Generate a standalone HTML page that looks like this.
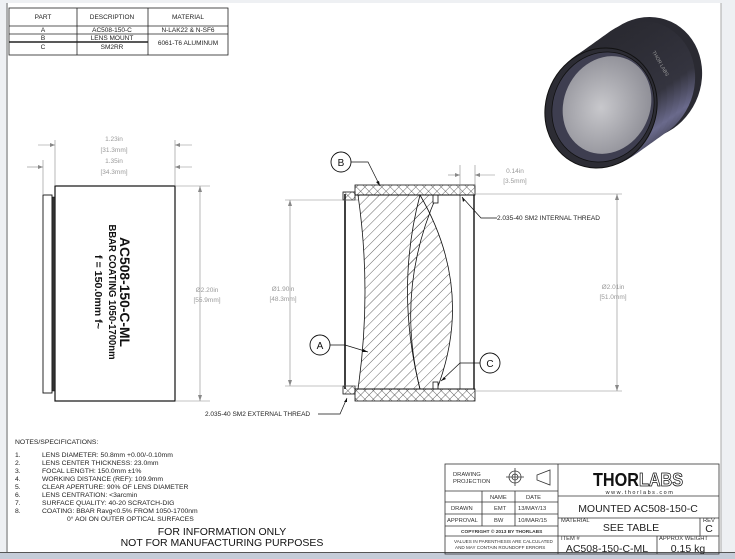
<!DOCTYPE html>
<html><head><meta charset="utf-8"><style>
html,body{margin:0;padding:0;background:#f0f0f0;}
svg{display:block;font-family:"Liberation Sans",sans-serif;}
</style></head><body>
<svg width="735" height="559" viewBox="0 0 735 559" xmlns="http://www.w3.org/2000/svg">
<defs>
<pattern id="h1" width="7" height="7" patternUnits="userSpaceOnUse" patternTransform="rotate(45)">
<line x1="0" y1="0" x2="0" y2="7" stroke="#222" stroke-width="0.7"/></pattern>
<pattern id="hx" width="6" height="6" patternUnits="userSpaceOnUse" patternTransform="rotate(45)">
<line x1="0" y1="0" x2="0" y2="6" stroke="#222" stroke-width="0.7"/><line x1="0" y1="0" x2="6" y2="0" stroke="#222" stroke-width="0.7"/></pattern>
<radialGradient id="glass" cx="45%" cy="55%" r="60%"><stop offset="0" stop-color="#c8c8cc"/><stop offset="1" stop-color="#8d8d95"/></radialGradient>
<linearGradient id="body" x1="0" y1="0" x2="1" y2="1"><stop offset="0" stop-color="#26262c"/><stop offset="0.55" stop-color="#34343f"/><stop offset="0.75" stop-color="#6a6a8c"/><stop offset="1" stop-color="#2a2a32"/></linearGradient>
</defs>
<rect x="0" y="0" width="735" height="559" fill="#eef0f3"/>
<rect x="8" y="3" width="713" height="549" fill="#fff"/>
<line x1="7" y1="3" x2="7" y2="552" stroke="#999" stroke-width="1.5"/>
<line x1="721" y1="3" x2="721" y2="552" stroke="#aaa" stroke-width="1"/>
<rect x="0" y="552" width="735" height="7" fill="#c5ccd8"/>
<line x1="0" y1="552.5" x2="735" y2="552.5" stroke="#555" stroke-width="1"/>

<!-- parts table -->
<g stroke="#222" stroke-width="0.8" fill="none">
<rect x="9" y="8" width="219" height="47"/>
<line x1="9" y1="26" x2="228" y2="26"/>
<line x1="9" y1="34" x2="228" y2="34"/>
<line x1="9" y1="42" x2="148" y2="42" stroke-width="1.4"/>
<line x1="77" y1="8" x2="77" y2="55"/>
<line x1="148" y1="8" x2="148" y2="55"/>
</g>
<g font-size="6.5" fill="#222" text-anchor="middle">
<text x="43" y="19">PART</text><text x="112" y="19">DESCRIPTION</text><text x="188" y="19">MATERIAL</text>
<text x="43" y="32">A</text><text x="112" y="32">AC508-150-C</text><text x="188" y="32">N-LAK22 &amp; N-SF6</text>
<text x="43" y="40">B</text><text x="112" y="40">LENS MOUNT</text><text x="188" y="45">6061-T6 ALUMINUM</text>
<text x="43" y="49">C</text><text x="112" y="49">SM2RR</text>
</g>

<!-- 3D render -->
<g fill="url(#body)">
<ellipse cx="645" cy="78" rx="56" ry="62" transform="rotate(25 645 78)" fill="#2a2a32"/>
<ellipse cx="638" cy="82" rx="56" ry="62" transform="rotate(25 638 82)"/>
<ellipse cx="631" cy="87" rx="56" ry="62" transform="rotate(25 631 87)"/>
<ellipse cx="624" cy="92" rx="56" ry="62" transform="rotate(25 624 92)"/>
<ellipse cx="617" cy="97" rx="56" ry="62" transform="rotate(25 617 97)"/>
<ellipse cx="610" cy="102" rx="56" ry="62" transform="rotate(25 610 102)"/>
<ellipse cx="604" cy="106" rx="56" ry="62" transform="rotate(25 604 106)"/>
</g>
<ellipse cx="601" cy="108" rx="55" ry="61" transform="rotate(25 601 108)" fill="#2c2c34" stroke="#111" stroke-width="1"/>
<ellipse cx="603" cy="107" rx="50" ry="56" transform="rotate(25 603 107)" fill="#3e3e50" stroke="#111" stroke-width="0.8"/>
<ellipse cx="607" cy="105" rx="43" ry="50" transform="rotate(25 607 105)" fill="url(#glass)"/>
<text x="652" y="52" font-size="5" fill="#999" transform="rotate(60 652 52)">THOR LABS</text>

<!-- left view -->
<g stroke="#111" fill="none">
<rect x="55" y="186" width="120" height="215" stroke-width="1.2"/>
<rect x="43" y="195" width="9" height="198" stroke-width="0.9"/>
<rect x="52" y="197" width="3" height="194" fill="#333" stroke-width="0.5"/>
</g>
<g stroke="#888" stroke-width="0.6" fill="none">
<line x1="55" y1="140" x2="55" y2="186"/><line x1="175" y1="140" x2="175" y2="186"/>
<line x1="43" y1="160" x2="43" y2="195"/>
<line x1="38" y1="145" x2="55" y2="145"/><line x1="175" y1="145" x2="192" y2="145"/>
<line x1="27" y1="167" x2="43" y2="167"/><line x1="175" y1="167" x2="192" y2="167"/>
<line x1="175" y1="186" x2="210" y2="186"/><line x1="175" y1="401" x2="210" y2="401"/>
<line x1="200" y1="186" x2="200" y2="401"/>
</g>
<g fill="#888"><path d="M55 145 l-5 -2 v4z"/><path d="M175 145 l5 -2 v4z"/><path d="M43 167 l-5 -2 v4z"/><path d="M175 167 l5 -2 v4z"/>
<path d="M200 186 l-2 6 h4z"/><path d="M200 401 l-2 -6 h4z"/></g>
<g font-size="6.5" fill="#999" text-anchor="middle">
<text x="114" y="141">1.23in</text><text x="114" y="152">[31.3mm]</text>
<text x="114" y="163">1.35in</text><text x="114" y="174">[34.3mm]</text>
<text x="207" y="292">Ø2.20in</text><text x="207" y="302">[55.9mm]</text>
</g>
<g transform="translate(113 292) rotate(90)" text-anchor="middle" font-weight="bold" fill="#111">
<text x="0" y="-7" font-size="13.5" textLength="110" lengthAdjust="spacingAndGlyphs">AC508-150-C-ML</text>
<text x="0" y="4" font-size="10" textLength="135" lengthAdjust="spacingAndGlyphs">BBAR COATING 1050-1700nm</text>
<text x="0" y="18" font-size="10" textLength="74" lengthAdjust="spacingAndGlyphs">f = 150.0mm f~</text>
</g>

<!-- section view -->
<g stroke="#111" stroke-width="0.8">
<rect x="355" y="185" width="120" height="10" fill="url(#hx)"/>
<rect x="355" y="389" width="120" height="12" fill="url(#hx)"/>
<rect x="343" y="192" width="12" height="8" fill="url(#hx)"/>
<rect x="343" y="386" width="12" height="8" fill="url(#hx)"/>
<path d="M358 195 L437 195 Q395 290 420 389 L358 389 Q372 292 358 195 Z" fill="url(#h1)"/>
<path d="M420 195 Q475 290 437 389 L420 389 Q395 290 420 195 Z" fill="url(#h1)"/>
<rect x="433" y="195" width="5" height="8" fill="#fff"/>
<rect x="433" y="382" width="5" height="7" fill="#fff"/>
</g>
<g stroke="#111" fill="none">
<line x1="345" y1="194" x2="345" y2="389" stroke-width="1.6"/>
<line x1="474" y1="195" x2="474" y2="389" stroke-width="1.4"/>
<line x1="355" y1="195" x2="474" y2="195" stroke-width="1"/>
<line x1="355" y1="389" x2="474" y2="389" stroke-width="1"/>
<line x1="460" y1="195" x2="460" y2="389" stroke-width="0.6"/>
</g>
<g stroke="#888" stroke-width="0.6" fill="none">
<line x1="285" y1="200" x2="358" y2="200"/><line x1="285" y1="386" x2="358" y2="386"/>
<line x1="290" y1="200" x2="290" y2="386"/>
<line x1="475" y1="194" x2="622" y2="194"/><line x1="475" y1="391" x2="622" y2="391"/>
<line x1="617" y1="194" x2="617" y2="391"/>
<line x1="460" y1="165" x2="460" y2="195"/><line x1="475" y1="165" x2="475" y2="186"/>
<line x1="448" y1="175" x2="460" y2="175"/><line x1="475" y1="175" x2="495" y2="175"/>
</g>
<g fill="#888"><path d="M290 200 l-2 6 h4z"/><path d="M290 386 l-2 -6 h4z"/><path d="M617 194 l-2 6 h4z"/><path d="M617 391 l-2 -6 h4z"/>
<path d="M460 175 l-5 -2 v4z"/><path d="M475 175 l5 -2 v4z"/></g>
<g font-size="6.5" fill="#999" text-anchor="middle">
<text x="283" y="291">Ø1.90in</text><text x="283" y="301">[48.3mm]</text>
<text x="613" y="289">Ø2.01in</text><text x="613" y="299">[51.0mm]</text>
<text x="515" y="173">0.14in</text><text x="515" y="183">[3.5mm]</text>
</g>
<g stroke="#111" stroke-width="0.7" fill="none">
<path d="M351 162 H368 L380 186"/>
<path d="M330 345 H345 L368 352"/>
<path d="M480 363 H460 L441 381"/>
<path d="M462 197 L481 218 H497"/>
<path d="M318 414 H340 L347 398"/>
</g>
<g fill="#111"><path d="M380 186 l-4 -4 l3 -1z"/><path d="M368 352 l-5 -3 l-1 3z"/><path d="M441 381 l5 -2 l-2 -2z"/><path d="M462 197 l1 5 l2 -2z"/><path d="M347 398 l-3 4 l3 0z"/></g>
<g fill="#fff" stroke="#111" stroke-width="0.9">
<circle cx="341" cy="162" r="10"/><circle cx="320" cy="345" r="10"/><circle cx="490" cy="363" r="10"/>
</g>
<g font-size="10" fill="#111" text-anchor="middle">
<text x="341" y="166">B</text><text x="320" y="349">A</text><text x="490" y="367">C</text>
</g>
<g font-size="6.5" fill="#222">
<text x="497" y="220">2.035-40 SM2 INTERNAL THREAD</text>
<text x="205" y="416">2.035-40 SM2 EXTERNAL THREAD</text>
</g>

<!-- notes -->
<g font-size="6.8" fill="#222">
<text x="15" y="444">NOTES/SPECIFICATIONS:</text>
<text x="15" y="457">1.</text><text x="42" y="457">LENS DIAMETER: 50.8mm +0.00/-0.10mm</text>
<text x="15" y="465">2.</text><text x="42" y="465">LENS CENTER THICKNESS: 23.0mm</text>
<text x="15" y="473">3.</text><text x="42" y="473">FOCAL LENGTH: 150.0mm ±1%</text>
<text x="15" y="481">4.</text><text x="42" y="481">WORKING DISTANCE (REF): 109.9mm</text>
<text x="15" y="489">5.</text><text x="42" y="489">CLEAR APERTURE: 90% OF LENS DIAMETER</text>
<text x="15" y="497">6.</text><text x="42" y="497">LENS CENTRATION: &lt;3arcmin</text>
<text x="15" y="505">7.</text><text x="42" y="505">SURFACE QUALITY: 40-20 SCRATCH-DIG</text>
<text x="15" y="513">8.</text><text x="42" y="513">COATING: BBAR Ravg&lt;0.5% FROM  1050-1700nm</text>
<text x="67" y="521">0° AOI ON OUTER OPTICAL SURFACES</text>
</g>
<g font-size="10.5" fill="#111" text-anchor="middle">
<text x="222" y="535">FOR INFORMATION ONLY</text>
<text x="222" y="546">NOT FOR MANUFACTURING PURPOSES</text>
</g>

<!-- title block -->
<g stroke="#333" stroke-width="0.8" fill="none">
<rect x="445" y="464" width="274" height="90"/>
<line x1="558" y1="464" x2="558" y2="554"/>
<line x1="445" y1="491" x2="558" y2="491"/>
<line x1="445" y1="502" x2="558" y2="502"/>
<line x1="445" y1="514" x2="558" y2="514"/>
<line x1="445" y1="526" x2="558" y2="526"/>
<line x1="445" y1="536" x2="558" y2="536"/>
<line x1="482" y1="491" x2="482" y2="526"/>
<line x1="515" y1="491" x2="515" y2="526"/>
<line x1="558" y1="496" x2="719" y2="496"/>
<line x1="558" y1="518" x2="719" y2="518"/>
<line x1="558" y1="536" x2="719" y2="536"/>
<line x1="700" y1="518" x2="700" y2="536"/>
<line x1="657" y1="536" x2="657" y2="554"/>
<circle cx="515" cy="477" r="6"/><circle cx="515" cy="477" r="3"/>
<line x1="506" y1="477" x2="524" y2="477"/><line x1="515" y1="468" x2="515" y2="486"/>
<path d="M537 475 L550 470 V485 L537 480 Z"/>
</g>
<g fill="#333" font-size="5.8">
<text x="453" y="476">DRAWING</text><text x="453" y="483">PROJECTION</text>
<text x="490" y="499">NAME</text><text x="526" y="499">DATE</text>
<text x="451" y="510">DRAWN</text><text x="494" y="510">EMT</text><text x="518" y="510">13/MAY/13</text>
<text x="447" y="522">APPROVAL</text><text x="494" y="522">BW</text><text x="518" y="522">10/MAR/15</text>
<text x="461" y="533" font-size="4.8" font-weight="bold">COPYRIGHT © 2013 BY THORLABS</text>
<text x="454" y="543" font-size="4.6">VALUES IN PARENTHESIS ARE CALCULATED</text>
<text x="455" y="549" font-size="4.6">AND MAY CONTAIN ROUNDOFF ERRORS</text>
<text x="561" y="522">MATERIAL</text><text x="703" y="522">REV</text>
<text x="561" y="540">ITEM #</text><text x="659" y="540">APPROX WEIGHT</text>
</g>
<text x="593" y="486" font-size="18" font-weight="bold" fill="#111" textLength="46" lengthAdjust="spacingAndGlyphs">THOR</text>
<text x="639" y="486" font-size="18" font-weight="bold" fill="#fff" stroke="#111" stroke-width="0.8" textLength="44" lengthAdjust="spacingAndGlyphs">LABS</text>
<text x="640" y="494" font-size="5.5" fill="#222" text-anchor="middle" letter-spacing="1.5">www.thorlabs.com</text>
<g fill="#222" text-anchor="middle">
<text x="638" y="512" font-size="10.5">MOUNTED AC508-150-C</text>
<text x="631" y="531" font-size="10.5">SEE TABLE</text>
<text x="709" y="532" font-size="10.5">C</text>
<text x="607" y="552" font-size="10.5">AC508-150-C-ML</text>
<text x="688" y="552" font-size="10.5">0.15 kg</text>
</g>
</svg>
</body></html>
